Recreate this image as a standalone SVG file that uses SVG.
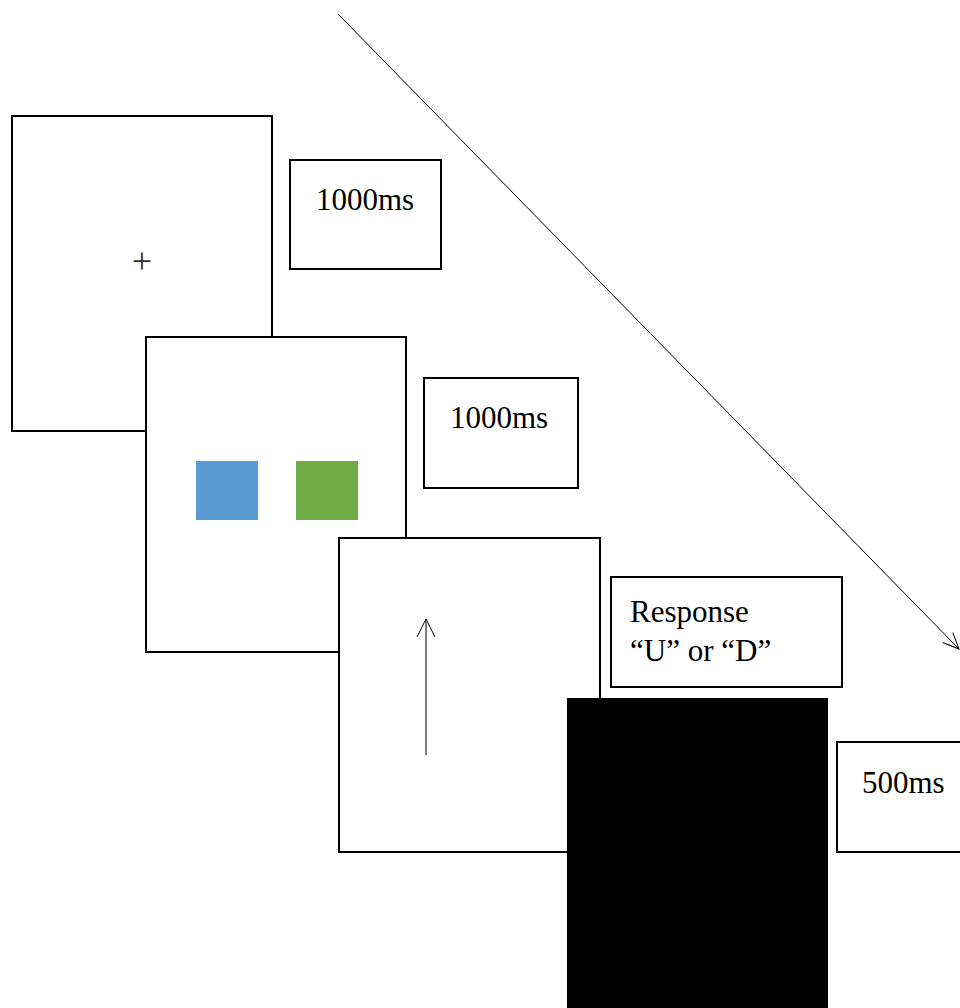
<svg xmlns="http://www.w3.org/2000/svg" width="960" height="1008" viewBox="0 0 960 1008">
<style>
.screen{fill:#fff;stroke:#000;stroke-width:2}
.label{fill:#fff;stroke:#000;stroke-width:2}
.t{font-family:"Liberation Serif","Times New Roman",serif;font-size:31px;fill:#000}
.conn{stroke:#000;stroke-width:1;fill:none}
</style>
<defs>
<marker id="open" viewBox="0 0 20 20" refX="19" refY="10" markerWidth="20" markerHeight="20" markerUnits="userSpaceOnUse" orient="auto">
<path d="M3,3 L19,10 L3,17" fill="none" stroke="#000" stroke-width="1"/>
</marker>
</defs>
<rect width="960" height="1008" fill="#fff"/>
<g id="fixation">
<rect class="screen" x="12" y="116" width="260" height="315"/>
<text x="142" y="273" text-anchor="middle" font-family="Liberation Serif, serif" font-size="36" fill="#333">+</text>
</g>
<g id="label-fixation">
<rect class="label" x="290" y="160" width="151" height="109"/>
<text class="t" x="316" y="210">1000ms</text>
</g>
<g id="cue">
<rect class="screen" x="146" y="337" width="260" height="315"/>
<rect x="196" y="461" width="62" height="59" fill="#5B9BD5"/>
<rect x="296" y="461" width="62" height="59" fill="#70AD47"/>
</g>
<g id="label-cue">
<rect class="label" x="424" y="378" width="154" height="110"/>
<text class="t" x="450" y="428">1000ms</text>
</g>
<g id="target">
<rect class="screen" x="339" y="538" width="261" height="314"/>
<line x1="426" y1="755" x2="426" y2="619" stroke="#000" stroke-width="1"/>
<path d="M417,637 L426,619 L435,637" fill="none" stroke="#000" stroke-width="1"/>
</g>
<g id="label-target">
<rect class="label" x="611" y="577" width="231" height="110"/>
<text class="t" x="630" y="622">Response</text>
<text class="t" x="630" y="661">“U” or “D”</text>
</g>
<g id="blank">
<rect x="567" y="698" width="261" height="312" fill="#000"/>
</g>
<g id="label-blank">
<rect class="label" x="837" y="742" width="150" height="110"/>
<text class="t" x="862" y="793">500ms</text>
</g>
<g id="connectors">
<line class="conn" x1="338" y1="14" x2="959" y2="649" marker-end="url(#open)"/>
</g>
</svg>
